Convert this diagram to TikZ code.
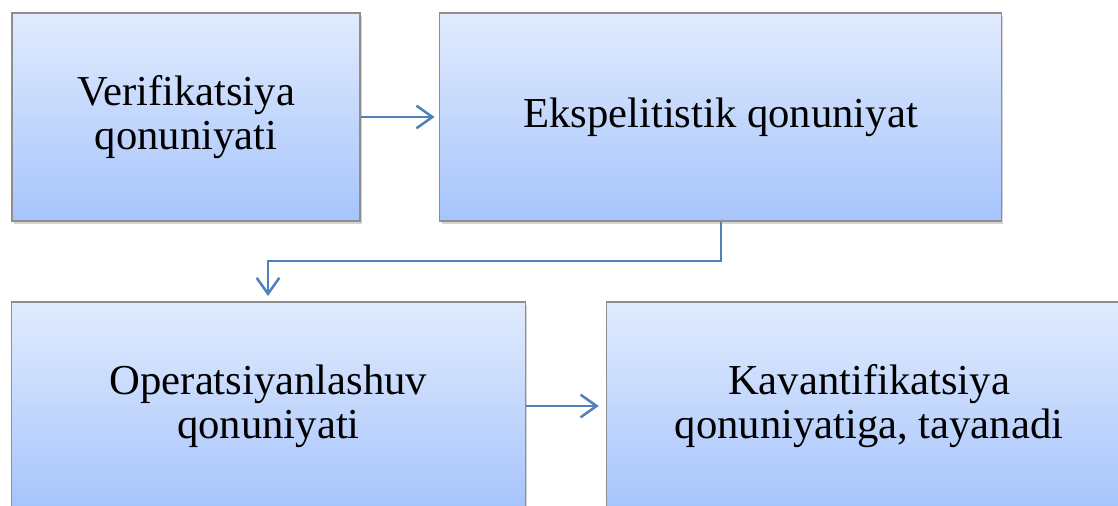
\documentclass[tikz,border=0pt]{standalone}
\usepackage{fontspec}
\setmainfont{Liberation Serif}
\usetikzlibrary{arrows.meta,shadows}
\definecolor{boxtop}{HTML}{E1EBFD}
\definecolor{boxbottom}{HTML}{A6C4FC}
\definecolor{boxline}{HTML}{8E8E8E}
\definecolor{flowblue}{HTML}{4F81BD}
\begin{document}
\begin{tikzpicture}[x=0.75pt,y=-0.75pt,
lawbox/.style={
% The shape:
rectangle,
% The size:
minimum height=156pt,
inner sep=0pt,
% The border:
draw=boxline, line width=0.9pt,
% The filling:
top color=boxtop, % light at the top...
bottom color=boxbottom, % and darker blue at the bottom
drop shadow={shadow xshift=1.5pt, shadow yshift=-2.5pt, opacity=0.35},
% Font
font=\fontsize{32}{33}\selectfont, align=center
},
flow/.style={draw=flowblue, line width=1.9pt,
-{Straight Barb[length=12pt,width=17pt,line width=1.9pt]}}
]
\useasboundingbox (0,0) rectangle (1118,506);
\clip (0,0) rectangle (1118,506);
\node [lawbox, minimum width=261pt] (verif) at (186,117) {Verifikatsiya\\qonuniyati};
\node [lawbox, minimum width=421pt] (ekspel) at (720.5,117) {Ekspelitistik qonuniyat};
\node [lawbox, minimum width=385pt] (operat) at (268.5,406) {Operatsiyanlashuv\\qonuniyati};
\node [lawbox, minimum width=394pt] (kavant) at (869,406) {Kavantifikatsiya\\qonuniyatiga, tayanadi};
% connectors
\coordinate (bend) at (721,261);
\coordinate (drop) at (268,296);
\draw [flow] (verif.east) -- ++(74,0);
\draw [flow] (ekspel.south -| bend) -- (bend) -| (drop);
\draw [flow] (operat.east) -- ++(73,0);
\end{tikzpicture}
\end{document}
